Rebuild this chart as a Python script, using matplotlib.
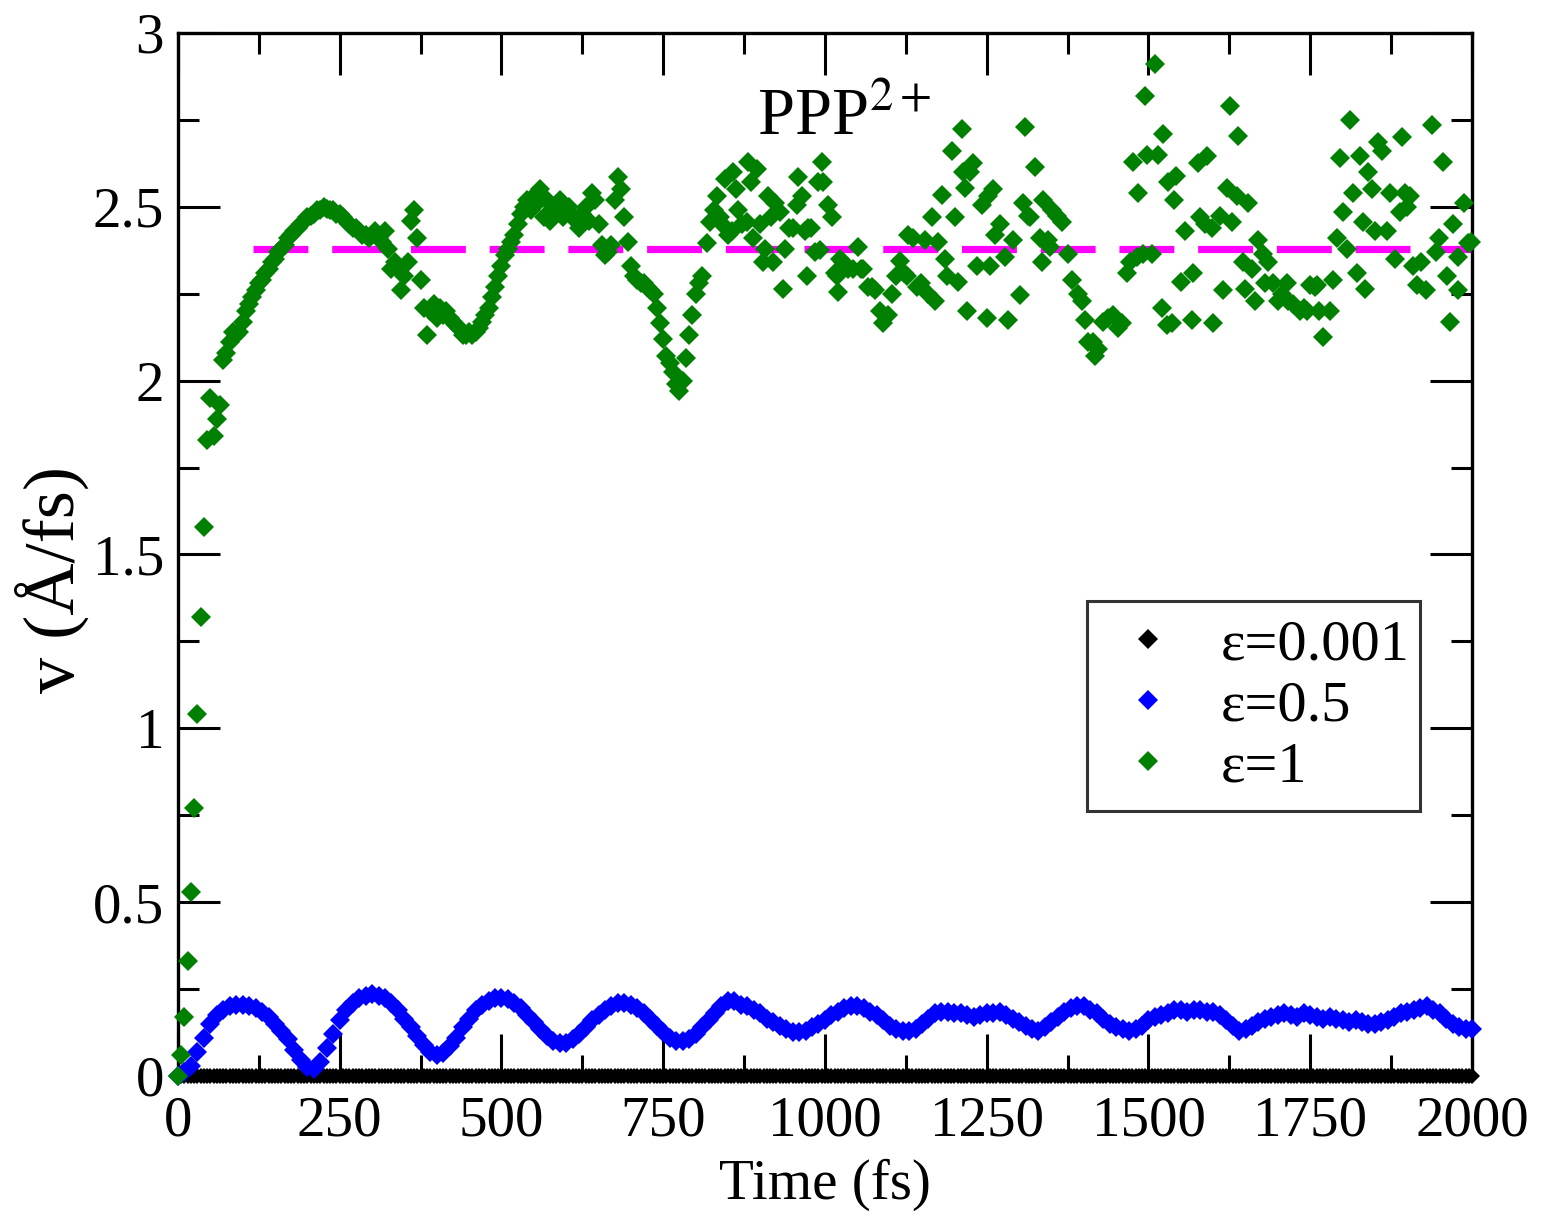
import numpy as np
import matplotlib
matplotlib.use('Agg')
import matplotlib.pyplot as plt
from matplotlib.ticker import MultipleLocator

plt.rcParams['font.family'] = ['Liberation Serif', 'DejaVu Serif']
plt.rcParams['mathtext.fontset'] = 'stix'

# eps = 1 (green diamonds), time in fs, v in A/fs
green_t = [0, 5, 10, 15, 20, 25, 30, 35, 40, 45, 50, 55, 60, 65, 70, 75, 80, 85, 90, 95,
           100, 105, 110, 115, 120, 125, 130, 135, 140, 145, 150, 155, 160, 165, 170, 175, 180, 185, 190, 195,
           200, 205, 210, 215, 220, 225, 230, 235, 240, 245, 250, 255, 260, 265, 270, 275, 280, 285, 290, 295,
           300, 305, 310, 315, 320, 325, 330, 335, 340, 345, 350, 355, 360, 365, 370, 375, 380, 385, 390, 395,
           400, 405, 410, 415, 420, 425, 430, 435, 440, 445, 450, 455, 460, 465, 470, 475, 480, 485, 490, 495,
           500, 505, 510, 515, 520, 525, 530, 535, 540, 545, 550, 555, 560, 565, 570, 575, 580, 585, 590, 595,
           600, 605, 610, 615, 620, 625, 630, 635, 640, 645, 650, 655, 660, 665, 670, 675, 680, 685, 690, 695,
           700, 705, 710, 715, 720, 725, 730, 735, 740, 745, 750, 755, 760, 765, 770, 775, 780, 785, 790, 795,
           800, 805, 810, 818, 822, 828, 833, 838, 841, 845, 850, 856, 858, 862, 866, 872, 879, 881, 886, 889,
           895, 900, 904, 908, 912, 916, 920, 923, 930, 935, 938, 944, 951, 957, 958, 964, 969, 972, 974, 978,
           985, 989, 992, 995, 997, 1005, 1011, 1015, 1019, 1020, 1023, 1028, 1035, 1043, 1051, 1055, 1059, 1066, 1073, 1077,
           1085, 1090, 1098, 1104, 1110, 1116, 1122, 1127, 1128, 1136, 1142, 1148, 1155, 1159, 1165, 1170, 1175, 1181, 1185, 1189,
           1196, 1201, 1206, 1212, 1213, 1216, 1219, 1224, 1229, 1235, 1243, 1250, 1252, 1255, 1260, 1263, 1270, 1278, 1283, 1291,
           1301, 1306, 1309, 1314, 1317, 1325, 1332, 1335, 1337, 1345, 1348, 1351, 1359, 1366, 1376, 1382, 1391, 1397, 1402, 1406,
           1414, 1417, 1422, 1430, 1437, 1445, 1453, 1459, 1467, 1471, 1476, 1482, 1484, 1491, 1495, 1498, 1505, 1510, 1515, 1521,
           1522, 1528, 1530, 1536, 1539, 1543, 1551, 1556, 1567, 1569, 1576, 1580, 1587, 1590, 1598, 1600, 1610, 1615, 1621, 1626,
           1629, 1637, 1638, 1646, 1649, 1654, 1660, 1665, 1669, 1677, 1680, 1685, 1692, 1700, 1707, 1714, 1716, 1723, 1734, 1740,
           1745, 1750, 1757, 1760, 1764, 1770, 1780, 1785, 1791, 1796, 1800, 1807, 1811, 1816, 1822, 1827, 1832, 1835, 1840, 1846,
           1850, 1855, 1861, 1869, 1873, 1881, 1889, 1892, 1897, 1900, 1904, 1909, 1915, 1921, 1929, 1938, 1944, 1949, 1955, 1961,
           1966, 1971, 1978, 1979, 1987, 1994, 1998]
green_v = [0.00, 0.06, 0.17, 0.33, 0.53, 0.77, 1.04, 1.32, 1.58, 1.83, 1.95, 1.84, 1.89, 1.93, 2.06, 2.08, 2.11, 2.14, 2.13, 2.14,
           2.17, 2.20, 2.22, 2.24, 2.26, 2.28, 2.29, 2.31, 2.32, 2.34, 2.35, 2.37, 2.38, 2.39, 2.41, 2.42, 2.43, 2.44, 2.45, 2.46,
           2.47, 2.475, 2.48, 2.49, 2.49, 2.50, 2.495, 2.49, 2.49, 2.48, 2.48, 2.47, 2.46, 2.45, 2.44, 2.44, 2.43, 2.42, 2.42, 2.41,
           2.42, 2.43, 2.41, 2.40, 2.43, 2.38, 2.32, 2.34, 2.32, 2.26, 2.30, 2.34, 2.46, 2.49, 2.41, 2.29, 2.21, 2.13, 2.20, 2.22,
           2.18, 2.21, 2.19, 2.20, 2.18, 2.17, 2.16, 2.15, 2.13, 2.13, 2.14, 2.13, 2.14, 2.15, 2.17, 2.19, 2.21, 2.24, 2.27, 2.30,
           2.33, 2.36, 2.38, 2.40, 2.42, 2.45, 2.48, 2.50, 2.52, 2.49, 2.53, 2.51, 2.55, 2.47, 2.52, 2.46, 2.50, 2.48, 2.52, 2.47,
           2.49, 2.50, 2.47, 2.46, 2.44, 2.48, 2.50, 2.46, 2.54, 2.52, 2.45, 2.39, 2.36, 2.37, 2.39, 2.52, 2.585, 2.55, 2.47, 2.40,
           2.33, 2.30, 2.29, 2.28, 2.28, 2.27, 2.26, 2.25, 2.21, 2.165, 2.12, 2.07, 2.05, 2.025, 1.99, 1.97, 2.00, 2.065, 2.13, 2.19,
           2.25, 2.28, 2.30, 2.395, 2.455, 2.49, 2.53, 2.47, 2.45, 2.58, 2.42, 2.43, 2.60, 2.55, 2.49, 2.45, 2.455, 2.63, 2.57, 2.41,
           2.61, 2.45, 2.34, 2.38, 2.53, 2.47, 2.34, 2.51, 2.485, 2.265, 2.38, 2.44, 2.44, 2.505, 2.585, 2.53, 2.43, 2.30, 2.44, 2.44,
           2.37, 2.57, 2.375, 2.63, 2.57, 2.505, 2.47, 2.31, 2.30, 2.255, 2.35, 2.34, 2.32, 2.32, 2.385, 2.32, 2.32, 2.27, 2.27, 2.26,
           2.20, 2.165, 2.19, 2.25, 2.30, 2.345, 2.31, 2.30, 2.42, 2.41, 2.27, 2.28, 2.405, 2.25, 2.47, 2.23, 2.40, 2.535, 2.35, 2.30,
           2.66, 2.47, 2.285, 2.725, 2.60, 2.555, 2.20, 2.60, 2.625, 2.33, 2.505, 2.18, 2.53, 2.33, 2.55, 2.42, 2.45, 2.355, 2.175, 2.405,
           2.245, 2.51, 2.73, 2.475, 2.47, 2.615, 2.41, 2.34, 2.52, 2.405, 2.385, 2.49, 2.475, 2.455, 2.365, 2.29, 2.25, 2.23, 2.175, 2.11,
           2.11, 2.07, 2.09, 2.17, 2.18, 2.19, 2.15, 2.165, 2.31, 2.34, 2.63, 2.355, 2.54, 2.365, 2.82, 2.65, 2.365, 2.91, 2.65, 2.21,
           2.71, 2.16, 2.57, 2.165, 2.52, 2.59, 2.285, 2.43, 2.175, 2.31, 2.625, 2.47, 2.45, 2.645, 2.44, 2.165, 2.475, 2.26, 2.555, 2.79,
           2.455, 2.53, 2.705, 2.34, 2.265, 2.51, 2.32, 2.23, 2.405, 2.365, 2.28, 2.34, 2.28, 2.23, 2.25, 2.28, 2.23, 2.22, 2.20, 2.21,
           2.20, 2.275, 2.27, 2.275, 2.20, 2.125, 2.20, 2.29, 2.41, 2.64, 2.485, 2.38, 2.75, 2.54, 2.31, 2.645, 2.455, 2.265, 2.60, 2.55,
           2.43, 2.685, 2.66, 2.43, 2.54, 2.35, 2.485, 2.70, 2.54, 2.50, 2.53, 2.33, 2.275, 2.34, 2.26, 2.735, 2.37, 2.41, 2.63, 2.30,
           2.17, 2.45, 2.355, 2.26, 2.51, 2.395, 2.40]

# eps = 0.5 (blue diamonds), every 10 fs
blue_t = list(range(0, 2001, 10))
blue_v = [0.00, 0.01, 0.03, 0.07, 0.11, 0.15, 0.175, 0.19, 0.20, 0.205, 0.205, 0.20, 0.195, 0.185, 0.17, 0.15, 0.13, 0.105, 0.075, 0.045,
          0.025, 0.02, 0.04, 0.08, 0.12, 0.16, 0.19, 0.21, 0.225, 0.23, 0.235, 0.23, 0.225, 0.21, 0.19, 0.165, 0.14, 0.115, 0.09, 0.07,
          0.06, 0.065, 0.085, 0.11, 0.14, 0.165, 0.19, 0.205, 0.215, 0.225, 0.225, 0.22, 0.21, 0.195, 0.175, 0.155, 0.135, 0.115, 0.10, 0.095,
          0.095, 0.105, 0.12, 0.14, 0.16, 0.175, 0.19, 0.20, 0.21, 0.21, 0.205, 0.195, 0.18, 0.165, 0.145, 0.125, 0.11, 0.10, 0.10, 0.105,
          0.12, 0.14, 0.16, 0.18, 0.20, 0.215, 0.215, 0.205, 0.20, 0.19, 0.18, 0.165, 0.155, 0.145, 0.135, 0.125, 0.125, 0.13, 0.14, 0.15,
          0.16, 0.175, 0.185, 0.195, 0.20, 0.20, 0.195, 0.185, 0.175, 0.16, 0.145, 0.135, 0.13, 0.13, 0.135, 0.15, 0.165, 0.18, 0.185, 0.185,
          0.18, 0.18, 0.175, 0.17, 0.175, 0.18, 0.18, 0.185, 0.175, 0.165, 0.155, 0.145, 0.135, 0.13, 0.14, 0.155, 0.17, 0.185, 0.195, 0.20,
          0.20, 0.19, 0.18, 0.165, 0.15, 0.14, 0.135, 0.13, 0.135, 0.145, 0.16, 0.17, 0.175, 0.18, 0.19, 0.19, 0.185, 0.19, 0.19, 0.185,
          0.185, 0.175, 0.16, 0.145, 0.13, 0.135, 0.145, 0.155, 0.165, 0.17, 0.175, 0.18, 0.175, 0.17, 0.18, 0.175, 0.17, 0.165, 0.17, 0.165,
          0.16, 0.155, 0.16, 0.155, 0.15, 0.15, 0.155, 0.16, 0.17, 0.18, 0.185, 0.19, 0.195, 0.20, 0.19, 0.18, 0.165, 0.15, 0.14, 0.135,
          0.135]

# eps = 0.001 (black diamonds) stays at zero
black_t = list(range(0, 2001, 5))
black_v = [0.0] * len(black_t)

v_mean = 2.38
mean_start = 116

fig = plt.figure(figsize=(15.42, 12.17), dpi=100)
ax = fig.add_axes([0.1154, 0.1159, 0.8392, 0.8570])

ax.plot([mean_start, 2000], [v_mean, v_mean], color='#ff00ff', lw=5.2,
        dashes=(7.6, 3.3), solid_capstyle='butt', zorder=1)
ax.plot(black_t, black_v, ls='none', marker='D', ms=8.5, mew=0, color='black', zorder=2,
        label='ε=0.001', clip_on=False)
ax.plot(blue_t, blue_v, ls='none', marker='D', ms=10, mew=0, color='#0000ff', zorder=3,
        label='ε=0.5', clip_on=False)
ax.plot(green_t, green_v, ls='none', marker='D', ms=10, mew=0, color='#008000', zorder=4,
        label='ε=1', clip_on=False)

ax.set_xlim(0, 2000)
ax.set_ylim(0, 3)
ax.xaxis.set_major_locator(MultipleLocator(250))
ax.xaxis.set_minor_locator(MultipleLocator(125))
ax.yaxis.set_major_locator(MultipleLocator(0.5))
ax.yaxis.set_minor_locator(MultipleLocator(0.25))
ax.yaxis.set_major_formatter(plt.FuncFormatter(lambda v, p: ('%g' % v)))
ax.tick_params(which='both', direction='in', top=True, right=True, width=2.2,
               labelsize=41)
ax.tick_params(axis='x', pad=14)
ax.tick_params(axis='y', pad=10)
ax.tick_params(which='major', length=30)
ax.tick_params(which='minor', length=15)
for s in ax.spines.values():
    s.set_linewidth(2.4)

ax.set_xlabel('Time (fs)', fontsize=41, labelpad=8)
ax.set_ylabel('v (Å/fs)', fontsize=52)
ax.yaxis.set_label_coords(-0.069, 0.4755)
ax.text(1030, 2.755, 'PPP$^{2+}$', ha='center', va='center', fontsize=48)

leg = ax.legend(loc='upper left', bbox_to_anchor=(0.7025, 0.2608, 0.2573, 0.1946), mode='expand',
                fontsize=42, frameon=True, fancybox=False, borderpad=0.3, labelspacing=0.14,
                handletextpad=0.5, handlelength=1.5, borderaxespad=0)
for h in leg.legend_handles:
    h.set_markersize(10)
leg.get_frame().set_edgecolor('black')
leg.get_frame().set_linewidth(2.2)

fig.savefig('out.png', dpi=100)
